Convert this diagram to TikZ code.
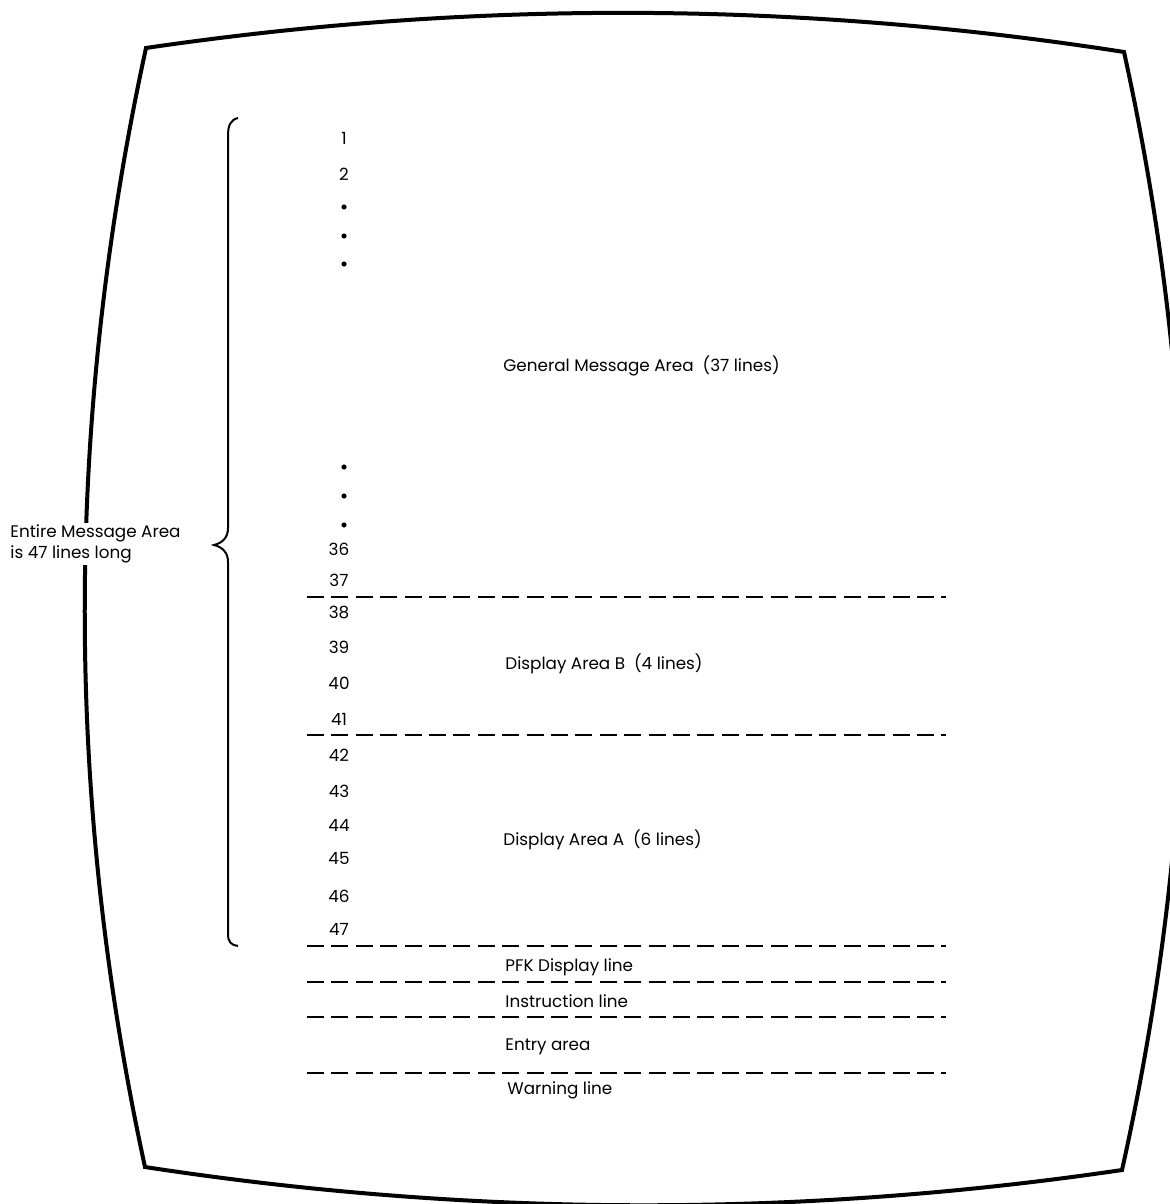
\documentclass[tikz,border=0pt]{standalone}
\usepackage{fontspec}
\setmainfont{Poppins}
\usetikzlibrary{positioning}

\begin{document}
\begin{tikzpicture}[x=0.5pt,y=-0.5pt, font=\fontsize{8.4}{10.5}\selectfont]
\tikzset{ecran/.style={line width=2pt,line join=miter},%contour de l'ecran
         separ/.style={line width=1.1pt,dash pattern=on 8.5pt off 3.7pt},%lignes de separation
         numero/.style={inner sep=0pt},
         zone/.style={inner sep=0pt,anchor=west},
         point/.style={circle,fill,inner sep=0pt,minimum size=2.6pt}}
\useasboundingbox (0,0) rectangle (1170,1204);

%contour bombe de l'ecran
\draw[ecran] (146,48) .. controls (472,0) and (798,1) .. (1124,52)
   .. controls (1206,425) and (1205,797) .. (1122,1170)
   .. controls (797,1218) and (471,1217) .. (145,1167)
   .. controls (64,794) and (65,421) .. cycle;

%accolade qui regroupe les 47 lignes
\draw[line width=1pt] (238,118) .. controls (230,120) and (228,126) .. (228,136)
   -- (228,528) .. controls (228,538) and (222,543) .. (214,545)
   .. controls (222,547) and (228,552) .. (228,562)
   -- (228,934) .. controls (228,942) and (231,945) .. (238,946);
\node[zone,align=left,fill=white,inner sep=1pt] (entire) at (8,544) {Entire Message Area\\is 47 lines long};

%numeros de ligne
\node[numero] (l1) at (344,138) {1};
\node[numero] (l2) at (344,174) {2};
\foreach \y [count=\i] in {207,236,264} \node[point] (p\i) at (344,\y) {};
\foreach \y [count=\i] in {467,496,525} \node[point] (q\i) at (344,\y) {};
\foreach \n/\y in {36/549,37/580,38/612,39/647,40/683,41/719,42/755,43/791,44/825,45/858,46/896,47/929}
   \node[numero] (l\n) at (339,\y) {\n};

%lignes de separation
\foreach \y in {597,735,946,982,1017,1073} \draw[separ] (307,\y) -- (946,\y);

%zones de l'ecran
\node[zone] (gen) at (503,366) {General Message Area\ \ (37 lines)};
\node[zone] (dispb) at (505,664) {Display Area B\ \ (4 lines)};
\node[zone] (dispa) at (503,840) {Display Area A\ \ (6 lines)};
\node[zone] (pfk) at (505,967) {PFK Display line};
\node[zone] (instr) at (505,1001) {Instruction line};
\node[zone] (entry) at (505,1047) {Entry area};
\node[zone] (warn) at (507,1090) {Warning line};
\end{tikzpicture}
\end{document}
